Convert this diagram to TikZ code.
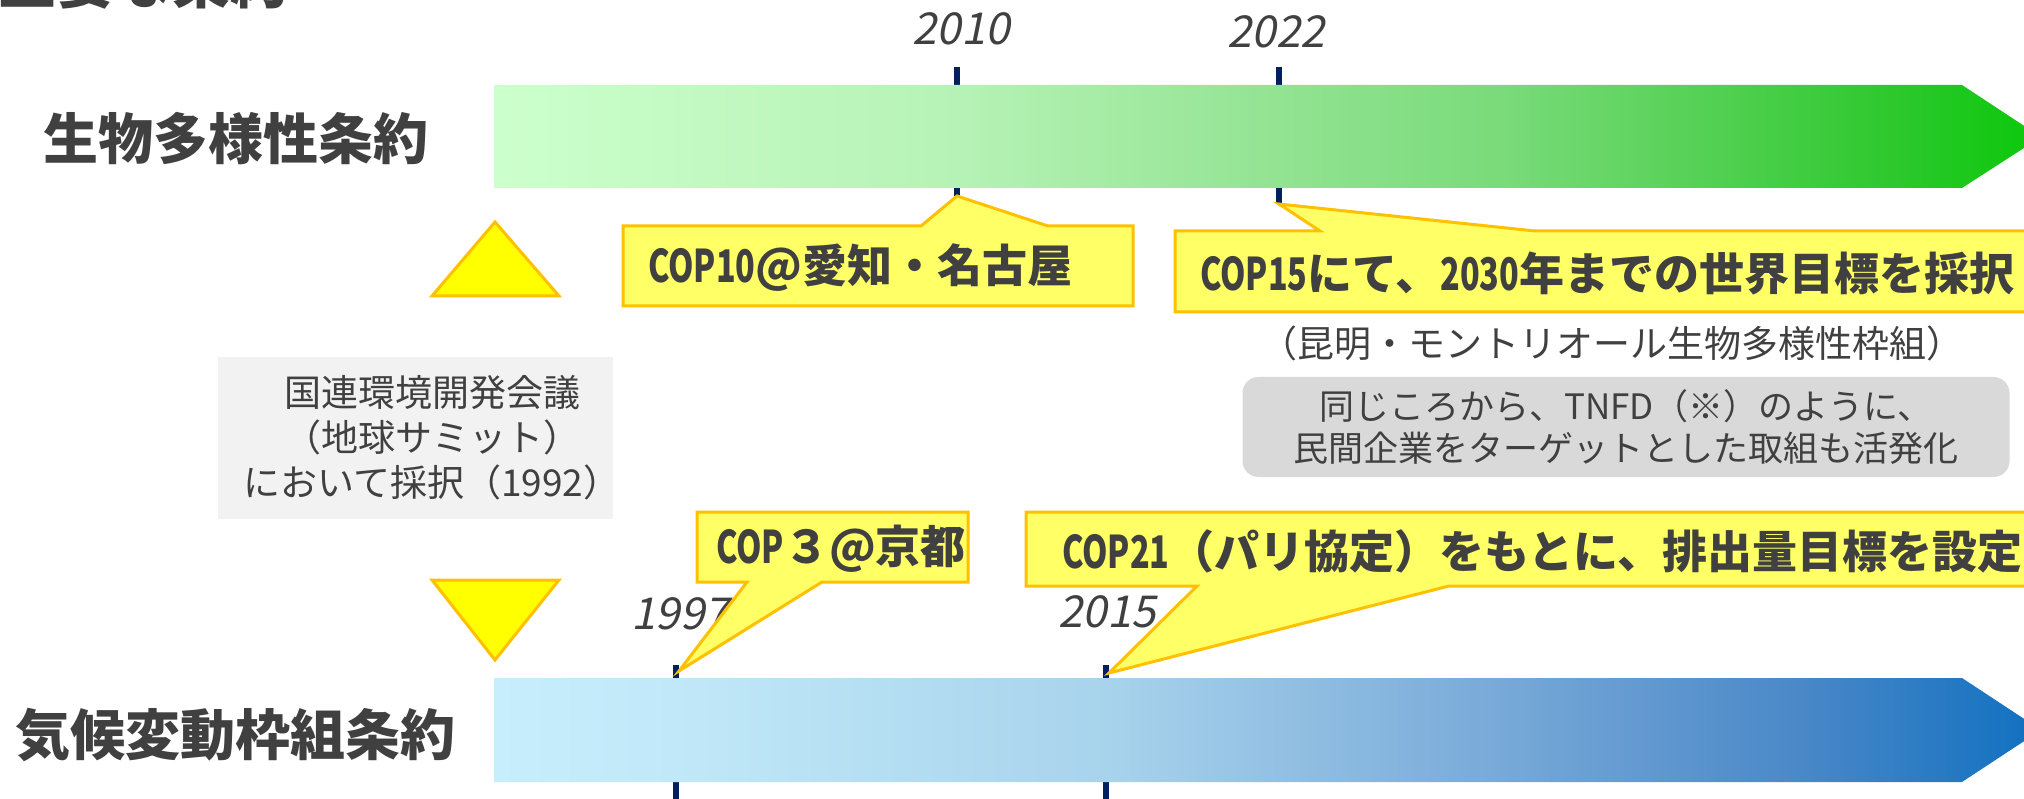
\documentclass[tikz,border=0pt]{standalone}
\usepackage{fontspec}
\setmainfont{Noto Sans CJK JP}
\newfontfamily\jpcond{Noto Sans CJK JP}[FakeStretch=0.72]
\newfontfamily\yearfont{Noto Sans CJK JP}[FakeSlant=0.2]
\definecolor{txt}{HTML}{404040}
\definecolor{tickc}{HTML}{002060}
\definecolor{cofill}{HTML}{FFFF66}
\definecolor{coline}{HTML}{FFC000}
\definecolor{trifill}{HTML}{FFFF00}
\definecolor{g0}{HTML}{CCFFCC}
\definecolor{g1}{HTML}{B6F2B6}
\definecolor{g2}{HTML}{92E392}
\definecolor{g3}{HTML}{7ADB7A}
\definecolor{g4}{HTML}{55D155}
\definecolor{g5}{HTML}{2CC82C}
\definecolor{g6}{HTML}{0AC80A}
\definecolor{b0}{HTML}{C6EEFC}
\definecolor{b1}{HTML}{C0E8F8}
\definecolor{b2}{HTML}{A8D3EC}
\definecolor{b3}{HTML}{78A9D8}
\definecolor{b4}{HTML}{4A88C8}
\definecolor{b5}{HTML}{1070C0}
\definecolor{lightbox}{HTML}{F2F2F2}
\definecolor{graybox}{HTML}{D9D9D9}
\pgfdeclarehorizontalshading{greenbar}{100bp}{color(0bp)=(g0); color(25bp)=(g0); color(40bp)=(g1); color(50.4bp)=(g2); color(57.5bp)=(g3); color(64bp)=(g4); color(70.4bp)=(g5); color(75bp)=(g6); color(100bp)=(g6)}
\pgfdeclarehorizontalshading{bluebar}{100bp}{color(0bp)=(b0); color(25bp)=(b0); color(30.9bp)=(b1); color(44.8bp)=(b2); color(57.5bp)=(b3); color(67.2bp)=(b4); color(75bp)=(b5); color(100bp)=(b5)}
\begin{document}
\begin{tikzpicture}[x=1pt,y=-1pt,
  tickmark/.style={draw=tickc,line width=6pt},
  callout/.style={fill=cofill,draw=coline,line width=3pt,line join=miter},
  tri/.style={fill=trifill,draw=coline,line width=3pt,line join=miter},
  cotext/.style={font=\fontsize{45}{50}\selectfont\bfseries,text=txt,inner sep=0pt,anchor=west},
  lab/.style={font=\fontsize{55}{60}\selectfont\bfseries,text=txt,inner sep=0pt},
  yr/.style={font=\fontsize{44}{48}\yearfont,text=txt,inner sep=0pt},
  note/.style={font=\fontsize{35}{42}\selectfont,text=txt,align=center,inner sep=0pt}]
\useasboundingbox (0,0) rectangle (2024,799);

% title (cut off at top)
\node[font=\fontsize{58}{60}\selectfont\bfseries,text=txt,inner sep=0pt,anchor=base west] (title) at (-2,4) {主要な条約};

% tick coordinates
\coordinate (t10a) at (957,67);  \coordinate (t10b) at (957,196);
\coordinate (t22a) at (1279,67); \coordinate (t22b) at (1279,204);
\coordinate (t97a) at (676,665); \coordinate (t97b) at (676,799);
\coordinate (t15a) at (1106,665);\coordinate (t15b) at (1106,799);
\coordinate (t97p) at (679,671);
\coordinate (t15p) at (1109,673);

\draw[tickmark] (t10a) -- (t10b);
\draw[tickmark] (t22a) -- (t22b);
\draw[tickmark] (t97a) -- (t97b);
\draw[tickmark] (t15a) -- (t15b);

% bars
\shade[shading=greenbar]
  (494,85) -- (1962,85) -- (2041,137) -- (1962,188) -- (494,188) -- cycle;
\shade[shading=bluebar]
  (494,678) -- (1962,678) -- (2041,730) -- (1962,782) -- (494,782) -- cycle;

% labels
\node[lab] (cbd) at (236,139) {生物多様性条約};
\node[lab] (unfccc) at (236,735) {気候変動枠組条約};

% years
\node[yr] (y2010) at (961,29) {2010};
\node[yr] (y2022) at (1276,32) {2022};
\node[yr] (y1997) at (680,614) {1997};
\node[yr] (y2015) at (1107,612) {2015};

% triangles
\draw[tri] (432,296) -- (495,222) -- (559,296) -- cycle;
\draw[tri] (432,580) -- (559,580) -- (495,660) -- cycle;

% summit box
\node[fill=lightbox,minimum width=395pt,minimum height=161pt,inner sep=0pt] (summitbox) at (415.5,438) {};
\node[font=\fontsize{37}{45}\selectfont,text=txt,align=center,inner sep=0pt] (summit) at (432,438)
  {国連環境開発会議\\（地球サミット）\\において採択（1992）};

% callouts top
\filldraw[callout] (623,226) -- (921,226) -- (t10b) -- (1048,226) -- (1133,226) -- (1133,306) -- (623,306) -- cycle;
\node[cotext] (cop10) at (648,268) {{\jpcond COP10}@愛知・名古屋};

\filldraw[callout] (1175,231) -- (1320,231) -- (t22b) -- (1535,231) -- (2030,231) -- (2030,312) -- (1175,312) -- cycle;
\node[cotext] (cop15) at (1200,273) {{\jpcond COP15}にて、{\jpcond 2030}年までの世界目標を採択};

\node[note,font=\fontsize{37}{42}\selectfont] (kunming) at (1612,343) {（昆明・モントリオール生物多様性枠組）};

\node[fill=graybox,rounded corners=16pt,minimum width=767pt,minimum height=100pt,inner sep=0pt] (tnfdbox) at (1626,427) {};
\node[note] (tnfd) at (tnfdbox.center) {同じころから、TNFD（※）のように、\\民間企業をターゲットとした取組も活発化};

% callouts bottom
\filldraw[callout] (697,512) -- (968,512) -- (968,582) -- (822,582) -- (t97p) -- (747,582) -- (697,582) -- cycle;
\node[cotext] (cop3) at (716,549) {{\jpcond COP}３@京都};

\filldraw[callout] (1026,512) -- (2030,512) -- (2030,586) -- (1449,586) -- (t15p) -- (1197,586) -- (1026,586) -- cycle;
\node[cotext] (cop21) at (1062,551) {{\jpcond COP21}（パリ協定）をもとに、排出量目標を設定};
\end{tikzpicture}
\end{document}
